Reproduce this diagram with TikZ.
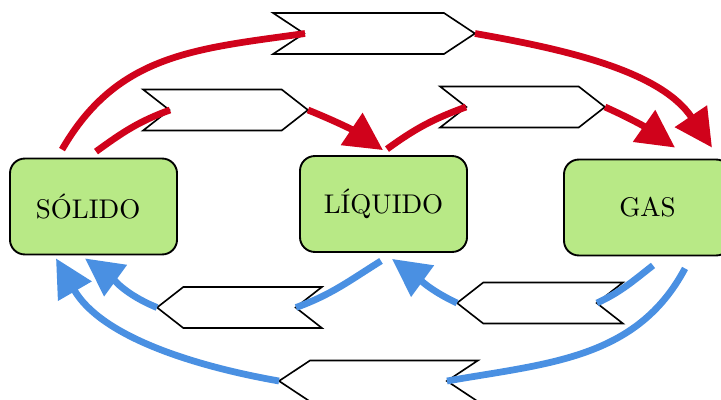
\documentclass[tikz,border=0pt]{standalone}
\usetikzlibrary{shapes.symbols,arrows.meta,calc}
\definecolor{stategreen}{HTML}{B8E986}
\definecolor{heatred}{HTML}{D0021B}
\definecolor{coolblue}{HTML}{4A90E2}
\begin{document}
\begin{tikzpicture}[x=0.37pt,y=0.37pt,
  state/.style={draw, line width=0.7pt, fill=stategreen, rounded corners=5.5pt,
    minimum width=61.8pt, minimum height=35.5pt, inner sep=0pt},
  sig/.style={draw, fill=white, line width=0.6pt, shape=signal, inner sep=0pt,
    minimum height=15.2pt},
  sigR/.style={sig, signal from=west, signal to=east},
  sigL/.style={sig, signal from=east, signal to=west},
  heatline/.style={draw=heatred, line width=2.5pt},
  heatarrow/.style={heatline, -{Triangle[length=14pt,width=13.8pt]}},
  coolline/.style={draw=coolblue, line width=2.5pt},
  coolarrow/.style={coolline, -{Triangle[length=14pt,width=13.8pt]}}
]
\useasboundingbox (0,0) rectangle (721,399);

% states
\node[state] (S) at (93.5,192.5) {SÓLIDO\kern4pt};
\node[state] (L) at (383.5,195) {LÍQUIDO};
\node[state] (G) at (647.5,191.5) {GAS};

% signals
\node[sigR, minimum width=74.7pt, signal pointer angle=67] (t1) at (374,365.5) {};
\node[sigR, minimum width=61pt, signal pointer angle=76] (t2) at (225.5,289) {};
\node[sigR, minimum width=61pt, signal pointer angle=76] (t3) at (522.5,292) {};
\node[sigL, minimum width=61pt, signal pointer angle=76] (t4) at (239.5,91.5) {};
\node[sigL, minimum width=61.4pt, signal pointer angle=76] (t5) at (540,96) {};
\node[sigL, minimum width=73.6pt, signal pointer angle=67] (t6) at (378.5,18) {};

% connection points on the signals
\coordinate (t1in) at ($(t1.center)+(-69,0)$);
\coordinate (t1out) at ($(t1.center)+(101,0)$);
\coordinate (t2in) at ($(t2.center)+(-55.5,0)$);
\coordinate (t2out) at ($(t2.center)+(82.5,0)$);
\coordinate (t3in) at ($(t3.center)+(-56.5,0)$);
\coordinate (t3out) at ($(t3.center)+(82.5,0)$);
\coordinate (t4in) at ($(t4.center)+(56.5,0)$);
\coordinate (t4out) at ($(t4.center)+(-82.5,0)$);
\coordinate (t5in) at ($(t5.center)+(57,0)$);
\coordinate (t5out) at ($(t5.center)+(-83,0)$);
\coordinate (t6in) at ($(t6.center)+(68.5,0)$);
\coordinate (t6out) at ($(t6.center)+(-99.5,0)$);

% heating (red)
\draw[heatline] ($(S.north)+(-31.5,8)$) to[out=60,in=188,looseness=1.05] (t1in);
\draw[heatarrow] (t1out) to[out=-10,in=124,looseness=0.9] ($(G.north)+(64.5,11)$);
\draw[heatline] ($(S.north)+(2.5,6)$) to[out=36,in=200] (t2in);
\draw[heatarrow] (t2out) to[out=-22,in=146] ($(L.north)+(-0.5,5)$);
\draw[heatline] ($(L.north)+(3.5,6)$) to[out=36,in=200] (t3in);
\draw[heatarrow] (t3out) to[out=-24,in=145] ($(G.north)+(27.5,11)$);

% cooling (blue)
\draw[coolline] ($(L.south)+(-2.5,-8)$) to[out=-148,in=20] (t4in);
\draw[coolarrow] (t4out) to[out=158,in=-36] ($(S.south)+(-8.5,-3)$);
\draw[coolline] ($(G.south)+(5.5,-9)$) to[out=-142,in=25] (t5in);
\draw[coolarrow] (t5out) to[out=155,in=-36] ($(L.south)+(8.5,-6)$);
\draw[coolline] ($(G.south)+(37.5,-12)$) to[out=-118,in=10] (t6in);
\draw[coolarrow] (t6out) to[out=170,in=-60,looseness=0.9] ($(S.south)+(-37.5,-3)$);
\end{tikzpicture}
\end{document}
